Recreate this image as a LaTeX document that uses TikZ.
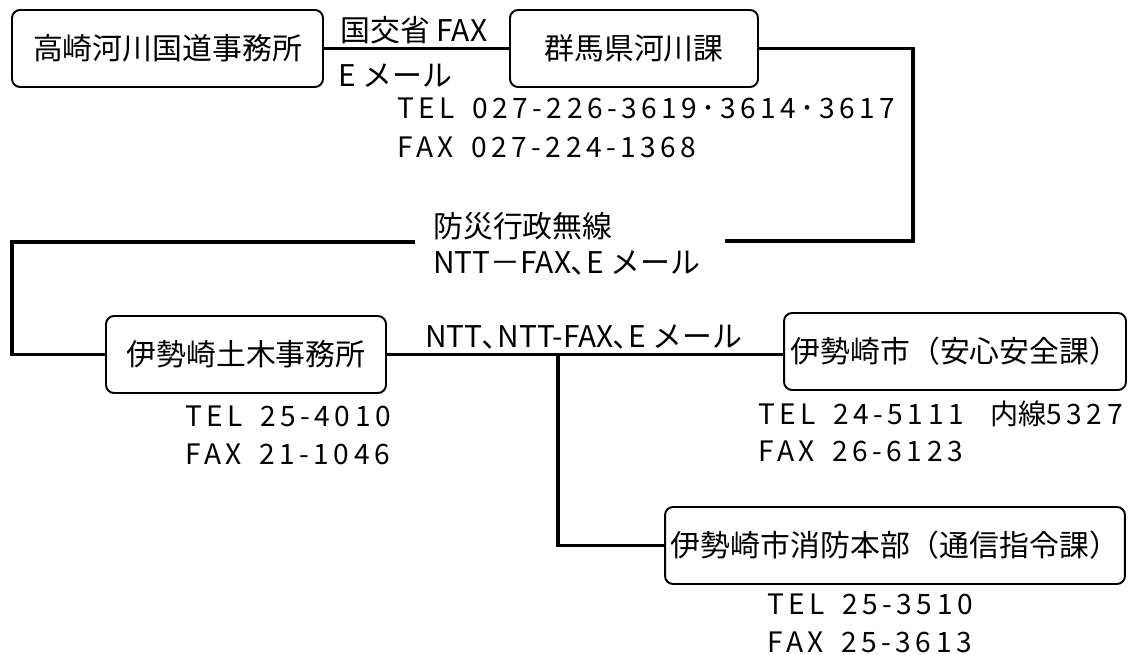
\documentclass[tikz,border=0pt]{standalone}
\usepackage{fontspec}
\setmainfont{Noto Sans CJK JP}
\newfontfamily\telfont{Noto Sans CJK JP}[LetterSpace=16]
\newfontfamily\jpplain{Noto Sans CJK JP}
\newcommand\telgap{\hspace{0.62em}}
\usetikzlibrary{calc}

\tikzset{
	office/.style={draw, line width=1.1pt, rounded corners=0.16cm, minimum height=1.54cm, inner sep=0pt, font=\fontsize{17}{20}\selectfont},
	wire/.style={line width=1.8pt},
	route/.style={anchor=west, inner sep=0pt, font=\fontsize{17}{20}\selectfont},
	phone/.style={anchor=west, inner sep=0pt, font=\telfont\fontsize{16}{19}\selectfont}
}

\begin{document}
\begin{tikzpicture}[x=0.02cm, y=-0.02cm]
		%%%%% START %%%%%
		\useasboundingbox (0, 0) rectangle (1133, 655);
		
		\node[office, minimum width=6.22cm] (takasaki) at (167.5, 48.5) {高崎河川国道事務所};
		\node[office, minimum width=4.96cm] (gunma) at (634, 48.5) {群馬県河川課};
		\node[office, minimum width=5.6cm] (isedoboku) at (246, 354.5) {伊勢崎土木事務所};
		\node[office, minimum width=6.84cm] (isecity) at (955, 351.5) {伊勢崎市（安心安全課）};
		\node[office, minimum width=9.2cm] (isefire) at (895, 545.5) {伊勢崎市消防本部（通信指令課）};
		
		\node[route] (kokko) at (340, 30) {国交省 FAX};
		\node[route] (mail) at (338, 76) {E メール};
		\node[phone] (gunmatel) at (397, 108) {TEL\telgap 027-226-3619･3614･3617};
		\node[phone] (gunmafax) at (397, 147) {FAX\telgap 027-224-1368};
		
		\node[route] (bousai) at (433, 226) {防災行政無線};
		\node[route] (bousaintt) at (433, 263) {NTT－FAX､E メール};
		\node[route] (ntt) at (425, 337) {NTT､NTT-FAX､E メール};
		
		\node[phone] (dobokutel) at (185, 416) {TEL\telgap 25-4010};
		\node[phone] (dobokufax) at (185, 454) {FAX\telgap 21-1046};
		\node[phone] (citytel) at (758, 413.5) {TEL\telgap 24-5111\hspace{0.95em}{\jpplain 内線}5327};
		\node[phone] (cityfax) at (758, 451.5) {FAX\telgap 26-6123};
		\node[phone] (firetel) at (767, 604) {TEL\telgap 25-3510};
		\node[phone] (firefax) at (767, 642) {FAX\telgap 25-3613};
		
		\coordinate (bendR) at (913, 241);
		\coordinate (gapR) at (725, 241);
		\coordinate (gapL) at (415, 242);
		\coordinate (bendL) at (12, 242);
		\coordinate (tee) at (558, 354.5);
		
		\draw[wire] (takasaki) -- (gunma);
		\draw[wire] (gunma.east) -| (bendR) -- (gapR);
		\draw[wire] (gapL) -- (bendL) |- (isedoboku.west);
		\draw[wire] (isedoboku.east) -- (isedoboku.east -| isecity.west);
		\draw[wire] (tee) |- (isefire.west);
		%%%%% END %%%%%
\end{tikzpicture}
\end{document}
